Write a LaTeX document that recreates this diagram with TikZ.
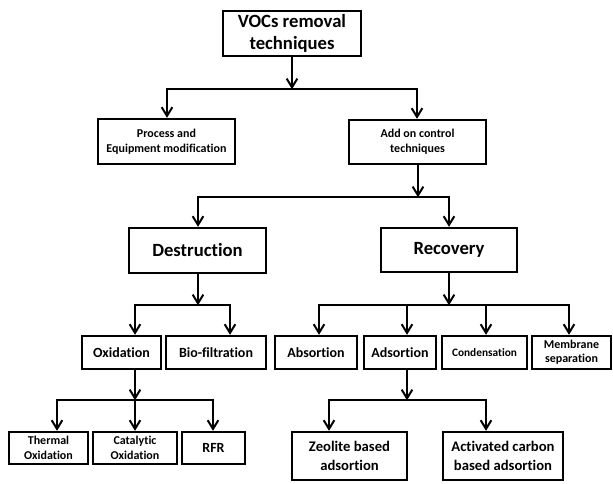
\documentclass[tikz,border=0pt]{standalone}
\usepackage{fontspec}
\setmainfont{Carlito}[Ligatures=NoCommon]
\usetikzlibrary{calc,arrows.meta}

\begin{document}
\begin{tikzpicture}[x=0.75pt,y=-0.75pt]

\tikzset{box/.style={draw,line width=1.8pt,align=center,inner sep=0},
boxsize/.style 2 args={minimum width=#1*0.75pt,minimum height=#2*0.75pt},
arr/.style={line width=1.5pt,-{Straight Barb[length=6.5pt,width=8pt]}}}

\useasboundingbox (0,0) rectangle (613,483);

% Top level
\node (vocs) [box,boxsize={138}{45},font=\bfseries\fontsize{14}{16}\selectfont] at (292,33.5) {VOCs removal\\techniques};

% Second level
\node (pem) [box,boxsize={137}{45},font=\bfseries\fontsize{9}{11}\selectfont] at (166.5,141.5) {Process and\\Equipment modification};
\node (addon) [box,boxsize={137}{44},font=\bfseries\fontsize{9}{11}\selectfont] at (417.5,142) {Add on control\\techniques};

% Destruction and recovery
\node (destr) [box,boxsize={137}{45},font=\bfseries\fontsize{14}{16}\selectfont] at (197.5,250.5) {Destruction};
\node (recov) [box,boxsize={136}{44},font=\bfseries\fontsize{14}{16}\selectfont] at (449,250) {Recovery};

% Methods
\node (oxid) [box,boxsize={79}{33},font=\bfseries\fontsize{10.5}{12}\selectfont] at (121.5,352.5) {Oxidation};
\node (bio) [box,boxsize={100}{33},font=\bfseries\fontsize{10.5}{12}\selectfont] at (216,352.5) {Bio-filtration};
\node (absorb) [box,boxsize={82}{33},font=\bfseries\fontsize{10.5}{12}\selectfont] at (316,352.5) {Absortion};
\node (adsorb) [box,boxsize={72}{33},font=\bfseries\fontsize{10.5}{12}\selectfont] at (400,352.5) {Adsortion};
\node (cond) [box,boxsize={85}{33},font=\bfseries\fontsize{8.5}{10}\selectfont] at (484.5,352.5) {Condensation};
\node (memb) [box,boxsize={79}{33},font=\bfseries\fontsize{9}{10.5}\selectfont] at (571.5,352.5) {Membrane\\separation};

% Bottom level
\node (thermal) [box,boxsize={79}{32},font=\bfseries\fontsize{9}{11}\selectfont] at (48.5,448) {Thermal\\Oxidation};
\node (catal) [box,boxsize={84}{32},font=\bfseries\fontsize{9}{11}\selectfont] at (135,448) {Catalytic\\Oxidation};
\node (rfr) [box,boxsize={63}{32},font=\bfseries\fontsize{10.5}{12}\selectfont] at (213.5,448) {RFR};
\node (zeol) [box,boxsize={115}{48},font=\bfseries\fontsize{11}{14}\selectfont] at (349.5,456) {Zeolite based\\adsortion};
\node (activ) [box,boxsize={120}{48},font=\bfseries\fontsize{11}{14}\selectfont] at (503,456) {Activated carbon\\based adsortion};

%% Junctions
\foreach \parent/\junc/\dx/\dy in {vocs/j0/0/32, addon/j1/0.5/32, destr/j2/0.5/31,
	recov/j3/0/32, oxid/j4/13.5/30, adsorb/j5/7/30}
	\coordinate (\junc) at ($(\parent.south)+(\dx,\dy)$);

%% Edges
\foreach \parent/\junc/\dx in {vocs/j0/0, addon/j1/0.5, destr/j2/0.5,
	recov/j3/0, oxid/j4/13.5, adsorb/j5/7}
	\draw[arr] ($(\parent.south)+(\dx,0)$) -- (\junc);
\foreach \junc/\child/\dx in {
	j0/pem/0.5, j0/addon/-0.5, j1/destr/0.5, j1/recov/0,
	j2/oxid/13.5, j2/bio/14, j3/absorb/3, j3/adsorb/7, j3/cond/1.5, j3/memb/-2.5,
	j4/thermal/8.5, j4/catal/0, j4/rfr/-0.5, j5/zeol/-20.5, j5/activ/-17%
}
	\draw[arr] (\junc) -| ($(\child.north)+(\dx,0)$);
\end{tikzpicture}
\end{document}
